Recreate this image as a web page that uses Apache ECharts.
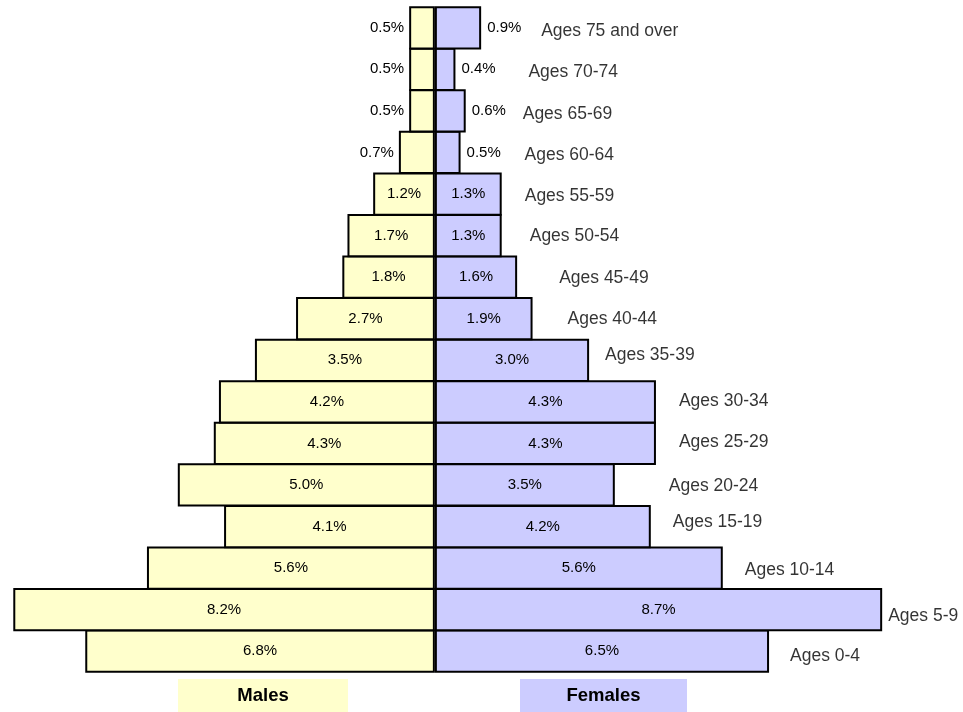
<!DOCTYPE html>
<html>
<head>
<meta charset="utf-8">
<title>Population pyramid</title>
<script src="https://cdn.jsdelivr.net/npm/echarts@6/dist/echarts.min.js"></script>
<style>
  html, body { margin: 0; padding: 0; background: #fff; }
  #chart { width: 963px; height: 712px; }
</style>
</head>
<body>
<div id="chart"></div>
<script>
// Age groups listed bottom-up (youngest first)
const ageGroups = [
  'Ages 0-4', 'Ages 5-9', 'Ages 10-14', 'Ages 15-19', 'Ages 20-24',
  'Ages 25-29', 'Ages 30-34', 'Ages 35-39', 'Ages 40-44', 'Ages 45-49',
  'Ages 50-54', 'Ages 55-59', 'Ages 60-64', 'Ages 65-69', 'Ages 70-74',
  'Ages 75 and over'
];
// Share of total population, percent
const malePct   = [6.8, 8.2, 5.6, 4.1, 5.0, 4.3, 4.2, 3.5, 2.7, 1.8, 1.7, 1.2, 0.7, 0.5, 0.5, 0.5];
const femalePct = [6.5, 8.7, 5.6, 4.2, 3.5, 4.3, 4.3, 3.0, 1.9, 1.6, 1.3, 1.3, 0.5, 0.6, 0.4, 0.9];

// Label placement for the age-group names, [dx, dy] in px from the end of the female bar
const ageLabelOffset = [
  [21, 5], [6, 7], [22, 2], [22, -4], [54, 1], [23, -1], [23, -1], [16, -5],
  [35, 0], [42, 1], [28, 1], [23, 2.5], [64, 2.5], [57, 3], [73, 3], [60, 3]
];

const FONT = '"Liberation Sans", Arial, sans-serif';
const MALE_FILL = '#FFFFCC';
const FEMALE_FILL = '#CCCCFF';
const TEXT = '#000';
const INSIDE_MIN = 1.0; // smaller bars carry their value label outside

const pct = v => Math.abs(v).toFixed(1) + '%';

function barData(values, sign, outsidePos, outsideDist) {
  return values.map(v => ({
    value: sign * v,
    label: v < INSIDE_MIN
      ? { position: outsidePos, distance: outsideDist }
      : { position: 'inside' }
  }));
}

const chart = echarts.init(document.getElementById('chart'), null, { renderer: 'canvas' });

// Bars are made a touch taller than the band so neighbouring rows share one outline
const barStyle = {
  type: 'bar',
  stack: 'pop',
  barWidth: '104%',
  barCategoryGap: 0
};

chart.setOption({
  animation: false,
  backgroundColor: '#fff',
  grid: { left: 3, right: 14, top: 7, bottom: 40, containLabel: false },
  xAxis: { type: 'value', min: -8.4, max: 10, show: false },
  yAxis: { type: 'category', data: ageGroups, show: false },
  series: [
    Object.assign({}, barStyle, {
      name: 'Males',
      itemStyle: { color: MALE_FILL, borderColor: '#000', borderWidth: 2 },
      label: {
        show: true, formatter: p => pct(p.value),
        color: TEXT, fontFamily: FONT, fontSize: 15
      },
      data: barData(malePct, -1, 'left', 5)
    }),
    Object.assign({}, barStyle, {
      name: 'Females',
      itemStyle: { color: FEMALE_FILL, borderColor: '#000', borderWidth: 2 },
      label: {
        show: true, formatter: p => pct(p.value),
        color: TEXT, fontFamily: FONT, fontSize: 15
      },
      data: barData(femalePct, 1, 'right', 6)
    }),
    {
      name: 'Age groups',
      type: 'scatter',
      symbolSize: 0,
      silent: true,
      z: 5,
      label: {
        show: true, position: 'right', distance: 0,
        color: TEXT, fontFamily: FONT, fontSize: 17.5,
        formatter: p => ageGroups[p.value[1]]
      },
      data: femalePct.map((v, i) => ({
        value: [v, i],
        label: { offset: ageLabelOffset[i] }
      }))
    }
  ],
  graphic: [
    {
      type: 'group', left: 178, top: 679,
      children: [
        { type: 'rect', shape: { x: 0, y: 0, width: 170, height: 33 }, style: { fill: MALE_FILL } },
        { type: 'text', x: 85, y: 17, style: {
            text: 'Males', align: 'center', verticalAlign: 'middle',
            font: 'bold 18.5px ' + FONT, fill: '#000' } }
      ]
    },
    {
      type: 'group', left: 520, top: 679,
      children: [
        { type: 'rect', shape: { x: 0, y: 0, width: 167, height: 33 }, style: { fill: FEMALE_FILL } },
        { type: 'text', x: 83.5, y: 17, style: {
            text: 'Females', align: 'center', verticalAlign: 'middle',
            font: 'bold 18.5px ' + FONT, fill: '#000' } }
      ]
    }
  ]
});
</script>
</body>
</html>
